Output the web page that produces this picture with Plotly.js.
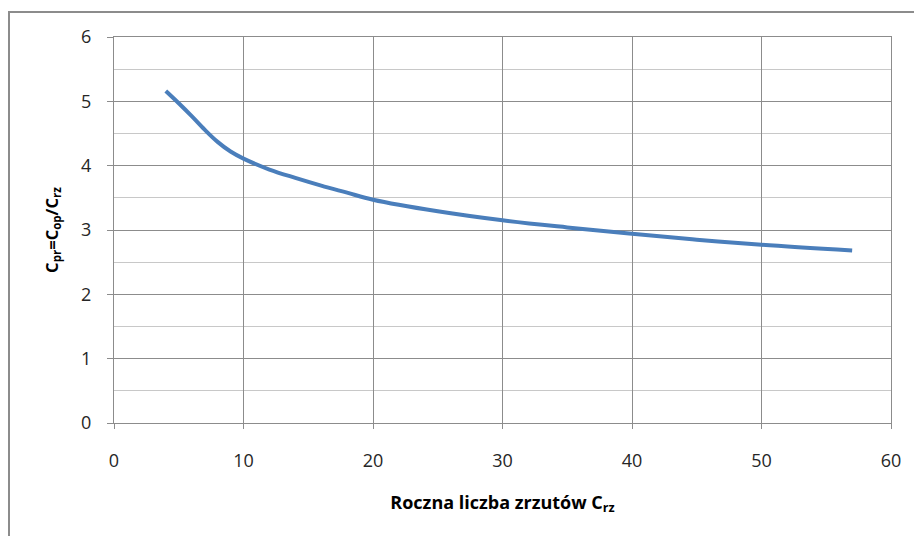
<!DOCTYPE html>
<html>
<head>
<meta charset="utf-8">
<script src="https://cdn.plot.ly/plotly-3.0.1.min.js"></script>
<style>
html,body{margin:0;padding:0;background:#fff;}
#wrap{position:relative;width:914px;height:536px;overflow:hidden;}
#chart{position:absolute;left:0;top:0;width:914px;height:536px;}
#frame{position:absolute;left:8px;top:11px;width:920px;height:540px;border:2px solid #8c8c8c;pointer-events:none;box-sizing:border-box;}
</style>
</head>
<body>
<div id="wrap">
<div id="chart"></div>
<div id="frame"></div>
</div>
<script>
const xValues = [4, 5, 6, 7, 8, 9, 10, 12, 14, 16, 18, 20, 25, 30, 35, 40, 45, 50, 57];
const yValues = [5.16, 4.97, 4.77, 4.56, 4.37, 4.22, 4.11, 3.94, 3.81, 3.69, 3.58, 3.47, 3.29, 3.15, 3.04, 2.94, 2.85, 2.77, 2.68];
const xTicks = [0, 10, 20, 30, 40, 50, 60];
const yTicks = [0, 1, 2, 3, 4, 5, 6];

const fontFam = '"Open Sans", "Liberation Sans", sans-serif';

const trace = {
  x: xValues,
  y: yValues,
  type: 'scatter',
  mode: 'lines',
  line: {color: '#4a7ebb', width: 4, shape: 'spline', smoothing: 1},
  hoverinfo: 'skip'
};

const layout = {
  width: 914,
  height: 536,
  margin: {l: 114, r: 23, t: 37, b: 113, autoexpand: false},
  paper_bgcolor: '#ffffff',
  plot_bgcolor: '#ffffff',
  showlegend: false,
  xaxis: {
    range: [0, 60],
    tickvals: xTicks,
    ticktext: xTicks.map(String),
    showgrid: true,
    gridcolor: '#8c8c8c',
    gridwidth: 1,
    zeroline: false,
    showline: true,
    linecolor: '#8c8c8c',
    linewidth: 1,
    mirror: true,
    ticks: 'outside',
    ticklen: 5,
    tickcolor: '#8c8c8c',
    ticklabelstandoff: 16,
    tickfont: {family: fontFam, size: 18, color: '#262626'},
    title: {text: '<b>Roczna liczba zrzutów C<sub>rz</sub></b>', font: {family: fontFam, size: 18, color: '#000'}, standoff: 25}
  },
  yaxis: {
    range: [0, 6],
    tickvals: yTicks,
    ticktext: yTicks.map(String),
    showgrid: true,
    gridcolor: '#8c8c8c',
    gridwidth: 1,
    minor: {dtick: 0.5, showgrid: true, gridcolor: '#c8c8c8', gridwidth: 1, ticks: ''},
    zeroline: false,
    showline: true,
    linecolor: '#8c8c8c',
    linewidth: 1,
    mirror: true,
    ticks: 'outside',
    ticklen: 6,
    tickcolor: '#8c8c8c',
    ticklabelstandoff: 12,
    tickfont: {family: fontFam, size: 18, color: '#262626'},
    title: {text: '<b>C<sub>pr</sub>=C<sub>op</sub>/C<sub>rz</sub></b>', font: {family: fontFam, size: 16.5, color: '#000'}, standoff: 18}
  }
};

Plotly.newPlot('chart', [trace], layout, {staticPlot: true, displayModeBar: false});
</script>
</body>
</html>
